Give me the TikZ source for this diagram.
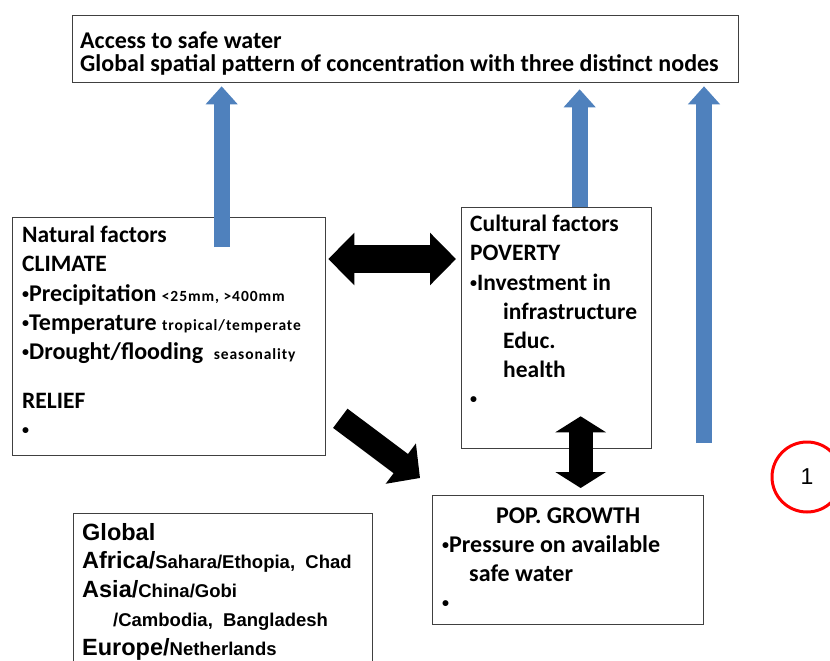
\documentclass[tikz,border=0pt]{standalone}
\usepackage{fontspec}
\setmainfont{Carlito}
\newfontfamily\arialfont{Liberation Sans}
\usetikzlibrary{arrows.meta,calc}
\definecolor{officeblue}{HTML}{4F81BD}
\definecolor{boxgray}{HTML}{404040}
\newcommand{\fs}[2]{\fontsize{#1}{#2}\selectfont}
\newcommand{\bul}{{\fs{14}{14}\raisebox{3pt}{\textbullet}}}
\newcommand{\smalltxt}[1]{{\fs{15.5}{29.3}\addfontfeatures{LetterSpace=6}#1}}

\begin{document}
\begin{tikzpicture}[x=1pt,y=-1pt,
  box/.style={draw=boxgray,line width=1.3pt,fill=white,inner sep=0pt,anchor=north west},
  txt/.style={inner sep=0pt,anchor=north west,align=left},
  bluearrow/.style={officeblue,line width=16pt,-{Triangle[width=31pt,length=18pt]}},
  blockarrow/.style={black,line width=24pt}]
  \useasboundingbox (0,0) rectangle (830,661);
  \clip (0,0) rectangle (830,661);
   % boxes
   \node[box,minimum width=666pt,minimum height=67pt] (access) at (72,15) {};
   \node[box,minimum width=313pt,minimum height=238pt] (nat) at (12,217) {};
   \node[box,minimum width=190pt,minimum height=241pt] (cult) at (461,207) {};
   \node[box,minimum width=271pt,minimum height=129pt] (pop) at (432,495) {};
   \node[box,minimum width=299pt,minimum height=200pt] (glob) at (73,513) {};
   \coordinate (Third) at (704,443);
  \node[txt,font=\bfseries\fs{24}{23}] (accessTxt) at ($(access.north west)+(8,17)$)
     {Access to safe water\\Global spatial pattern of concentration  with three  distinct nodes};
  \node[txt,font=\bfseries\fs{23.5}{29.3}] (natTxt) at ($(nat.north west)+(10,9)$)
     {Natural factors\\CLIMATE\\
      {\fs{24}{29.3}\bul Precipitation} \smalltxt{<25mm, >400mm}\\
      {\fs{24}{29.3}\bul Temperature} \smalltxt{tropical/temperate}\\
      {\fs{24}{29.3}\bul Drought/flooding}~ \smalltxt{seasonality}\\[19pt]
      RELIEF\\ \bul};
  \node[txt,font=\bfseries\fs{23.5}{29.2}] (cultTxt) at ($(cult.north west)+(9,8)$)
     {Cultural  factors\\POVERTY\\\bul Investment in\\
      \hspace*{33pt}infrastructure\\\hspace*{33pt}Educ.\\\hspace*{33pt}health\\\bul};
  \node[inner sep=0pt,anchor=north,font=\bfseries\fs{24}{29}] (popTitle) at ($(pop.north)+(0,13)$) {POP. GROWTH};
  \node[txt,font=\bfseries\fs{24}{29}] (popTxt) at ($(pop.north west)+(10,40)$)
     {\bul Pressure on  available\\\hspace*{27pt}safe water\\\bul};
  \node[txt,font=\arialfont\bfseries\fs{23.5}{28.7}] (globTxt) at ($(glob.north west)+(9,10)$)
     {Global\\Africa/{\fs{18.5}{28.7}Sahara/Ethopia,~ Chad}\\Asia/{\fs{18.5}{28.7}China/Gobi}\\
      \hspace*{31pt}{\fs{18.5}{28.7}/Cambodia,~ Bangladesh}\\Europe/{\fs{18.5}{28.7}Netherlands}};
  \node[draw=red,circle,line width=3pt,minimum size=70pt,font=\arialfont\fs{23}{23}] (one) at (807,477) {1};
   % blue arrows up to the top box
  \draw[bluearrow] ($(nat.north)+(52.5,30)$) -- ($(access.south -| nat.north)+(52.5,3)$);
  \draw[bluearrow] ($(cult.north)+(23,0)$) -- ($(access.south -| cult.north)+(23,6)$);
  \draw[bluearrow] (Third) -- ($(access.south -| Third)+(0,3)$);
   % black block arrows
  \draw[blockarrow,line width=28pt,{Triangle[width=51pt,length=26pt]}-{Triangle[width=51pt,length=26pt]}]
     ($(nat.north east)+(2,42)$) -- ($(cult.north west)+(-5,52)$);
  \draw[blockarrow,-{Triangle[width=49pt,length=24pt]}]
     ($(nat.south east)+(14,-38)$) -- ($(pop.north west)+(-12,-17)$);
  \draw[blockarrow,{Triangle[width=50pt,length=16pt]}-{Triangle[width=50pt,length=16pt]}]
     ($(cult.south)+(24,-33)$) -- ($(pop.north)+(12.5,-7)$);
\end{tikzpicture}
\end{document}
